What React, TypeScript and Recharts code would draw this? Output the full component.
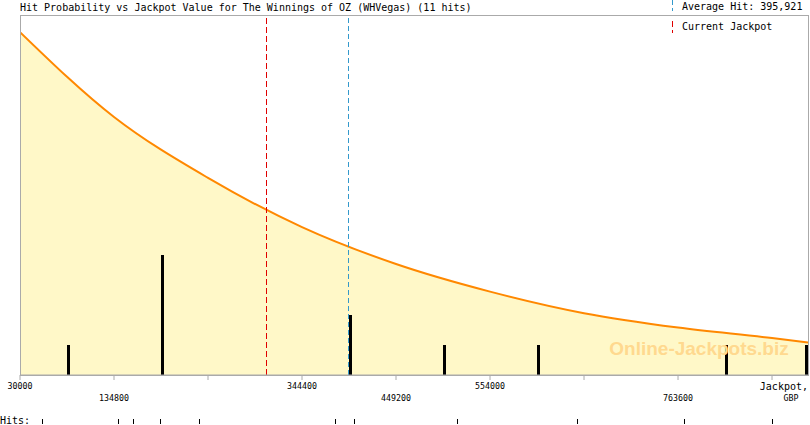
import React from "react";
import {
  ComposedChart,
  Area,
  Bar,
  XAxis,
  YAxis,
  ReferenceLine,
  ReferenceArea,
  ReferenceDot,
} from "recharts";

const TITLE = "Hit Probability vs Jackpot Value for The Winnings of OZ (WHVegas) (11 hits)";

// probability curve (scaled to the hit count axis)
const CURVE_JACKPOT = [30000, 134800, 239600, 344400, 449200, 554000, 658800, 763600, 868400, 908500];
const CURVE_VALUE = [11.43, 8.6, 6.57, 4.93, 3.7, 2.78, 2.06, 1.58, 1.23, 1.08];

// histogram of hits
const BIN_JACKPOT = [84100, 188900, 398500, 503300, 608100, 817300, 906800];
const BIN_HITS = [1, 4, 2, 1, 1, 1, 1];

// every single hit, drawn on the "Hits:" strip
const HIT_JACKPOTS = [55600, 139300, 156000, 186100, 229600, 381200, 402400, 517200, 651000, 770300, 868400];

const AXIS_TICKS = [30000, 134800, 239600, 344400, 449200, 554000, 658800, 763600, 868400];
const AVERAGE_HIT = 395921;
const CURRENT_JACKPOT = 304800;
const X_MIN = 30000;
const X_MAX = 908500;

const MONO = "'DejaVu Sans Mono', monospace";

const rows: { x: number; curve?: number; hits?: number }[] = [
  ...CURVE_JACKPOT.map((x, i) => ({ x, curve: CURVE_VALUE[i] })),
  ...BIN_JACKPOT.map((x, i) => ({ x, hits: BIN_HITS[i] })),
].sort((a, b) => a.x - b.x);

const SECOND_ROW = new Set([134800, 449200, 763600]);
const NO_LABEL = new Set([239600, 658800]);

function AxisTick(props: any) {
  const { x, y, payload } = props;
  const v = payload.value;
  if (v === 868400) {
    return (
      <g>
        <text x={808} y={y + 7.5} textAnchor="end" fontSize={10} fontFamily={MONO} fill="#000">
          Jackpot,
        </text>
        <text x={791} y={y + 19} textAnchor="middle" fontSize={8.3} fontFamily={MONO} fill="#000">
          GBP
        </text>
      </g>
    );
  }
  if (NO_LABEL.has(v)) return <g />;
  const dy = SECOND_ROW.has(v) ? 19 : 6.5;
  return (
    <text x={x} y={y + dy} textAnchor="middle" fontSize={8.3} fontFamily={MONO} fill="#000">
      {v}
    </text>
  );
}

function HitTick(props: any) {
  const { x } = props;
  return <line x1={x} x2={x} y1={419} y2={424} stroke="#000" strokeWidth={1} shapeRendering="crispEdges" />;
}

// bins sit close to the curve points, so the band is tiny: draw a fixed 3px bar
function HitBar(props: any) {
  const { x, y, width, height } = props;
  if (!height) return <g />;
  const cx = x + width / 2;
  return <rect x={cx - 1.5} y={y} width={3} height={height} fill="#000" shapeRendering="crispEdges" />;
}

export default function App() {
  return (
    <div style={{ position: "absolute", left: 0, top: 0, width: 810, height: 425, background: "#fff" }}>
      <ComposedChart
        width={810}
        height={425}
        data={rows}
        margin={{ top: 15, right: 2, bottom: 0, left: 20 }}
      >
        <XAxis
          dataKey="x"
          type="number"
          domain={[X_MIN, X_MAX]}
          allowDataOverflow
          ticks={AXIS_TICKS}
          interval={0}
          height={38}
          stroke="#aaaaaa"
          tickSize={5}
          tickMargin={2}
          tick={<AxisTick />}
        />
        <XAxis
          xAxisId="hits"
          dataKey="x"
          type="number"
          domain={[X_MIN, X_MAX]}
          allowDataOverflow
          ticks={HIT_JACKPOTS}
          interval={0}
          height={12}
          axisLine={false}
          tickLine={false}
          tick={<HitTick />}
        />
        <YAxis hide domain={[0, 12]} allowDataOverflow />
        <Area
          dataKey="curve"
          type="monotone"
          connectNulls
          stroke="#ff8800"
          strokeWidth={2}
          fill="#fff8c8"
          fillOpacity={1}
          dot={false}
          activeDot={false}
          isAnimationActive={false}
        />
        <ReferenceDot
          x={787000}
          y={0.9}
          r={0}
          stroke="none"
          fill="none"
          label={{
            value: "Online-Jackpots.biz",
            position: "center",
            fill: "#ffd98f",
            fontSize: 19,
            fontWeight: "bold",
            fontFamily: "'Liberation Sans', Arial, sans-serif",
          }}
        />
        <Bar dataKey="hits" fill="#000" shape={<HitBar />} isAnimationActive={false} />
        <ReferenceLine x={CURRENT_JACKPOT} stroke="#e00000" strokeDasharray="6 3" shapeRendering="crispEdges" />
        <ReferenceLine x={AVERAGE_HIT} stroke="#3399cc" strokeDasharray="5 3" shapeRendering="crispEdges" />
        <ReferenceArea
          x1={X_MIN}
          x2={X_MAX}
          y1={0}
          y2={12}
          fill="none"
          stroke="#aaaaaa"
          shapeRendering="crispEdges"
        />
      </ComposedChart>
      <svg
        width={810}
        height={425}
        style={{ position: "absolute", left: 0, top: 0, pointerEvents: "none" }}
      >
        <text x={20} y={11} fontSize={10} fontFamily={MONO} fill="#000">
          {TITLE}
        </text>
        <line x1={672.5} x2={672.5} y1={0} y2={11} stroke="#3399cc" strokeDasharray="5 3" />
        <text x={682} y={10} fontSize={10} fontFamily={MONO} fill="#000">
          Average Hit: 395,921
        </text>
        <line x1={672.5} x2={672.5} y1={21} y2={33} stroke="#e00000" strokeDasharray="6 3" />
        <text x={682} y={30} fontSize={10} fontFamily={MONO} fill="#000">
          Current Jackpot
        </text>
        <text x={0} y={424} fontSize={10} fontFamily={MONO} fill="#000">
          Hits:
        </text>
      </svg>
    </div>
  );
}
